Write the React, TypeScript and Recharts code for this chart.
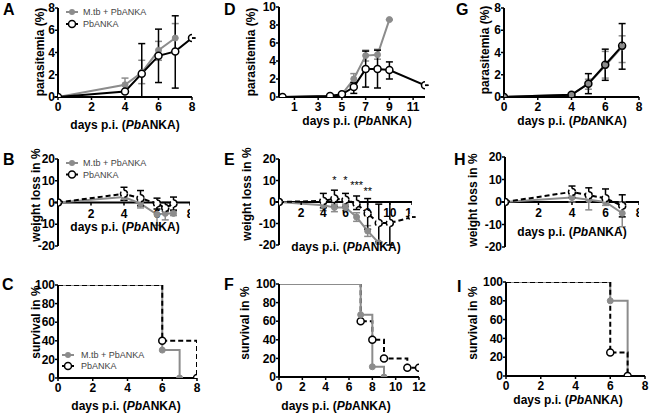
import React from 'react';
import { LineChart, Line, XAxis, YAxis, ErrorBar, ReferenceLine } from 'recharts';

const GREY = '#8c8c8c';
const FONT = '"Liberation Sans", Arial, Helvetica, sans-serif';

// ---- A: parasitemia (%), days 0-8
const daysA_mtb = [0, 4, 5, 6, 7];
const paraA_mtb = [0, 1.1, 2.2, 4.2, 5.3];
const paraA_mtbLo = [0, 0.5, 1.2, 3.3, 4.1];
const paraA_mtbHi = [0, 1.7, 3.3, 5.0, 6.6];
const daysA_pb = [0, 4, 5, 6, 7, 8];
const paraA_pb = [0, 0.5, 2.1, 3.7, 4.1, 5.3];
const paraA_pbLo = [0, 0.5, 0, 1.3, 0.8, 5.3];
const paraA_pbHi = [0, 0.5, 4.8, 6.1, 7.3, 5.3];

// ---- D: parasitemia (%), days 0-12
const daysD_mtb = [0, 4, 5, 6, 7, 8, 9];
const paraD_mtb = [0, 0.1, 0.3, 2.0, 4.6, 4.7, 8.6];
const paraD_mtbLo = [0, 0.1, 0.3, 1.6, 4.0, 4.2, 8.6];
const paraD_mtbHi = [0, 0.1, 0.3, 2.6, 5.2, 5.3, 8.6];
const daysD_pb = [0, 4, 5, 6, 7, 8, 9, 12];
const paraD_pb = [0, 0.1, 0.3, 1.1, 3.1, 3.1, 3.0, 1.3];
const paraD_pbLo = [0, 0.1, 0.3, 0.4, 1.1, 1.0, 2.0, 1.3];
const paraD_pbHi = [0, 0.1, 0.3, 1.6, 5.1, 5.2, 3.9, 1.3];

// ---- G: parasitemia (%), days 0-7
const daysG = [0, 4, 5, 6, 7];
const paraG_mtb = [0, 0.2, 1.2, 2.8, 4.5];
const paraG_mtbLo = [0, 0.2, 0.7, 1.7, 3.1];
const paraG_mtbHi = [0, 0.2, 1.6, 4.1, 5.5];
const paraG_pb = [0, 0.2, 1.2, 2.9, 4.6];
const paraG_pbLo = [0, 0.2, 0.3, 1.5, 2.5];
const paraG_pbHi = [0, 0.2, 2.1, 4.3, 6.6];

// ---- B: weight loss in %
const daysB = [0, 4, 5, 6, 6.5, 7];
const wB_mtb = [0, 2.5, -0.5, -5.5, -5, -5];
const wB_mtbLo = [0, 1, -2.5, -10.5, -8, -6];
const wB_mtbHi = [0, 4, 1.5, -1, -2, -4];
const wB_pb = [0, 4, 2, -0.5, -2.5, -0.5];
const wB_pbLo = [0, 1, -1.5, -3, -4, -3.5];
const wB_pbHi = [0, 7, 5.5, 2, 0, 2.5];

// ---- E: weight loss in %
const daysE_mtb = [0, 4, 5, 6, 7, 8, 9];
const wE_mtb = [0, -1.5, -2.5, -2.5, -7, -13.5, -19];
const wE_mtbLo = [0, -4, -4.5, -4, -9, -16, -19];
const wE_mtbHi = [0, 0, -1, -1, -5, -11, -19];
const daysE_pb = [0, 4, 5, 6, 7, 8, 9, 10, 12];
const wE_pb = [0, 0.5, 1.6, 1, -0.8, -5.4, -9.8, -9.8, -7];
const wE_pbLo = [0, -2.7, -2, -2, -3.5, -12.7, -18.5, -20, -7];
const wE_pbHi = [0, 4, 5.5, 4, 2.8, 1.6, -1, 0, -7];
const starDays = [5, 6, 7, 8];
const starLevels = [8.6, 8.6, 6.2, 3.3];
const starLabels = ['*', '*', '***', '**'];

// ---- H: weight loss in %
const daysH = [0, 4, 5, 6, 7];
const wH_mtb = [0, 2, 1, 0, -5];
const wH_mtbLo = [0, 0, -3.5, -1.5, -11];
const wH_mtbHi = [0, 3, 4, 1.5, 0];
const wH_pb = [0, 4.5, 3, 1.7, -1.7];
const wH_pbLo = [0, 2, 0, 0, -6.6];
const wH_pbHi = [0, 7.1, 6.3, 5.8, 3.2];

// ---- C, F, I: survival in %
const daysC_mtb = [0, 6, 7];
const survC_mtb = [100, 30, 0];
const daysC_pb = [0, 6, 8];
const survC_pb = [100, 40, 0];
const daysF_mtb = [0, 7, 8, 9];
const survF_mtb = [100, 67, 11, 0];
const daysF_pb = [0, 7, 8, 9, 11, 12];
const survF_pb = [100, 60, 40, 20, 10, 10];
const daysI = [0, 6, 7];
const survI_mtb = [100, 80, 0];
const survI_pb = [100, 25, 0];

// ---- axis ticks
const ticks0to8 = [0, 2, 4, 6, 8];
const ticksDx = [1, 3, 5, 7, 9, 11];
const ticksDy = [0, 2, 4, 6, 8, 10];
const ticksWeightX = [2, 4, 6, 8];
const ticksWeightXE = [2, 4, 6, 8, 10, 12];
const ticksWeightY = [-20, -10, 0, 10, 20];
const ticksSurvY = [0, 20, 40, 60, 80, 100];
const ticksFx = [0, 2, 4, 6, 8, 10, 12];

type Row = { day: number; v: number; err?: [number, number]; label?: string };

const toRows = (days: number[], mean: number[], lo?: number[], hi?: number[]): Row[] =>
  days.map((d, i) => ({
    day: d,
    v: mean[i],
    err: lo && hi ? [mean[i] - lo[i], hi[i] - mean[i]] : undefined,
  }));

const tickFont = { fontSize: 12, fontWeight: 700, fill: '#000', fontFamily: FONT };
const axisLine = { stroke: '#000', strokeWidth: 2 };
const tickLine = { stroke: '#000', strokeWidth: 1.5 };

const greyDot = { r: 3, fill: GREY, stroke: GREY, strokeWidth: 1 };
const openDot = { r: 3.5, fill: '#fff', stroke: '#000', strokeWidth: 1.5 };
const ringDot = { r: 3.5, fill: 'none', stroke: '#000', strokeWidth: 1.5 };

// survival curves: no marker at the starting point
const eventDot = (open: boolean) => (p: any) => {
  if (p.index === 0 || p.cx == null) return <g key={`e${p.index}`} />;
  return open ? (
    <circle key={`e${p.index}`} cx={p.cx} cy={p.cy} r={3.5} fill="#fff" stroke="#000" strokeWidth={1.5} />
  ) : (
    <circle key={`e${p.index}`} cx={p.cx} cy={p.cy} r={3} fill={GREY} stroke={GREY} />
  );
};

// tick marks + labels along the y=0 line of the weight panels
const zeroTick = (p: any) => (
  <g key={`z${p.index}`}>
    <line x1={p.cx} x2={p.cx} y1={p.cy} y2={p.cy + 3} stroke="#000" strokeWidth={1.5} />
    <text x={p.cx} y={p.cy + 15} textAnchor="middle" {...tickFont}>
      {p.payload.day}
    </text>
  </g>
);

const starMark = (p: any) => (
  <text key={`s${p.index}`} x={p.cx} y={p.cy} textAnchor="middle" fontSize={11} fontFamily={FONT} fill="#000">
    {p.payload.label}
  </text>
);

const yTick = (p: any) => (
  <text x={p.x} y={p.y} dy="0.35em" textAnchor="end" {...tickFont}>
    {p.payload.value}
  </text>
);

type PanelProps = {
  left: number;
  top: number;
  plotLeft: number;
  plotTop: number;
  plotRight: number;
  plotBottom: number;
  xDomain: [number, number];
  xTicks: number[];
  yDomain: [number, number];
  yTicks: number[];
  zeroAxis?: boolean;
  children: React.ReactNode;
};

function Panel({ left, top, plotLeft, plotTop, plotRight, plotBottom, xDomain, xTicks, yDomain, yTicks, zeroAxis, children }: PanelProps) {
  const xh = zeroAxis ? 0 : 34;
  const mb = zeroAxis ? 12 : 0;
  const mr = 10;
  const width = plotRight - left + mr;
  const height = plotBottom - top + xh + mb;
  return (
    <div style={{ position: 'absolute', left, top, width, height }}>
      <LineChart width={width} height={height} margin={{ top: plotTop - top, right: mr, bottom: mb, left: 0 }} style={{ overflow: 'visible' }}>
        {zeroAxis ? (
          <XAxis type="number" dataKey="day" domain={xDomain} hide allowDataOverflow />
        ) : (
          <XAxis
            type="number"
            dataKey="day"
            domain={xDomain}
            ticks={xTicks}
            interval={0}
            height={xh}
            allowDataOverflow
            tick={tickFont}
            tickSize={3}
            tickMargin={2}
            axisLine={axisLine}
            tickLine={tickLine}
          />
        )}
        <YAxis
          type="number"
          domain={yDomain}
          ticks={yTicks}
          interval={0}
          width={plotLeft - left}
          allowDataOverflow
          tick={yTick}
          tickSize={3}
          tickMargin={0}
          axisLine={axisLine}
          tickLine={tickLine}
        />
        {zeroAxis && <ReferenceLine y={0} stroke="#000" strokeWidth={2} />}
        {zeroAxis && (
          <Line
            data={xTicks.map((t) => ({ day: t, v: 0 }))}
            dataKey="v"
            stroke="none"
            dot={zeroTick}
            activeDot={false}
            isAnimationActive={false}
          />
        )}
        {children}
      </LineChart>
    </div>
  );
}

const meanLine = (rows: Row[], black: boolean, dashed: boolean, dot: any) => (
  <Line
    data={rows}
    dataKey="v"
    type="linear"
    stroke={black ? '#000' : GREY}
    strokeWidth={2}
    strokeDasharray={dashed ? '5 3' : undefined}
    dot={dot}
    activeDot={false}
    isAnimationActive={false}
  >
    <ErrorBar dataKey="err" width={3.5} stroke={black ? '#000' : GREY} strokeWidth={1.5} />
  </Line>
);

const survLine = (days: number[], vals: number[], black: boolean) => (
  <Line
    data={toRows(days, vals)}
    dataKey="v"
    type="stepAfter"
    stroke={black ? '#000' : GREY}
    strokeWidth={2}
    strokeDasharray={black ? '5 3' : undefined}
    dot={eventDot(black)}
    activeDot={false}
    isAnimationActive={false}
  />
);

const yTitles = [
  { x: 40, y: 52, t: 'parasitemia (%)' },
  { x: 251, y: 52, t: 'parasitemia (%)' },
  { x: 485, y: 50, t: 'parasitemia (%)' },
  { x: 36, y: 195, t: 'weight loss in %' },
  { x: 247, y: 194, t: 'weight loss in %' },
  { x: 473, y: 200, t: 'weight loss in %' },
  { x: 36, y: 322, t: 'survival in %' },
  { x: 245, y: 323, t: 'survival in %' },
  { x: 473, y: 323, t: 'survival in %' },
];

const xTitles = [
  { x: 125, y: 129 },
  { x: 357, y: 125 },
  { x: 572, y: 125 },
  { x: 125, y: 231 },
  { x: 346, y: 251 },
  { x: 572, y: 236 },
  { x: 126, y: 410 },
  { x: 336, y: 410 },
  { x: 568, y: 404 },
];

const letters = [
  { x: 3, y: 15, t: 'A' },
  { x: 3, y: 165, t: 'B' },
  { x: 2, y: 290, t: 'C' },
  { x: 224, y: 15, t: 'D' },
  { x: 224, y: 165, t: 'E' },
  { x: 224, y: 290, t: 'F' },
  { x: 456, y: 15, t: 'G' },
  { x: 454, y: 165, t: 'H' },
  { x: 457, y: 292, t: 'I' },
];

const legendSpots = [
  { x: 72, y1: 12, y2: 24, tx: 83 },
  { x: 72, y1: 163, y2: 174.5, tx: 83 },
  { x: 68, y1: 355, y2: 366, tx: 81 },
];

function Overlay() {
  return (
    <svg width={650} height={414} style={{ position: 'absolute', left: 0, top: 0, pointerEvents: 'none' }} fontFamily={FONT}>
      {letters.map((l) => (
        <text key={l.t} x={l.x} y={l.y} fontSize={16} fontWeight={700}>
          {l.t}
        </text>
      ))}
      {yTitles.map((t, i) => (
        <text key={`y${i}`} x={t.x} y={t.y} dy="0.35em" transform={`rotate(-90 ${t.x} ${t.y})`} textAnchor="middle" fontSize={12} fontWeight={700}>
          {t.t}
        </text>
      ))}
      {xTitles.map((t, i) => (
        <text key={`x${i}`} x={t.x} y={t.y} textAnchor="middle" fontSize={12} fontWeight={700}>
          days p.i. (<tspan fontStyle="italic">Pb</tspan>ANKA)
        </text>
      ))}
      {legendSpots.map((s, i) => (
        <g key={`l${i}`}>
          <line x1={s.x - 6} x2={s.x + 6} y1={s.y1} y2={s.y1} stroke={GREY} strokeWidth={2} />
          <circle cx={s.x} cy={s.y1} r={3} fill={GREY} />
          <text x={s.tx} y={s.y1 + 3.2} fontSize={9} fill="#444">
            M.tb + PbANKA
          </text>
          <line x1={s.x - 6} x2={s.x + 6} y1={s.y2} y2={s.y2} stroke="#000" strokeWidth={2} />
          <circle cx={s.x} cy={s.y2} r={3.5} fill="#fff" stroke="#000" strokeWidth={1.5} />
          <text x={s.tx} y={s.y2 + 3.2} fontSize={9} fill="#444">
            PbANKA
          </text>
        </g>
      ))}
    </svg>
  );
}

export default function App() {
  return (
    <div style={{ position: 'absolute', left: 0, top: 0, width: 650, height: 414, background: '#fff', fontFamily: FONT }}>
      {/* row 1: parasitemia */}
      <Panel left={0} top={0} plotLeft={58} plotTop={8} plotRight={192} plotBottom={97} xDomain={[0, 8]} xTicks={ticks0to8} yDomain={[0, 8]} yTicks={ticks0to8}>
        {meanLine(toRows(daysA_mtb, paraA_mtb, paraA_mtbLo, paraA_mtbHi), false, false, greyDot)}
        {meanLine(toRows(daysA_pb, paraA_pb, paraA_pbLo, paraA_pbHi), true, false, openDot)}
      </Panel>
      <Panel left={210} top={0} plotLeft={279} plotTop={7} plotRight={425} plotBottom={97} xDomain={[-0.3, 12]} xTicks={ticksDx} yDomain={[0, 10]} yTicks={ticksDy}>
        {meanLine(toRows(daysD_mtb, paraD_mtb, paraD_mtbLo, paraD_mtbHi), false, false, greyDot)}
        {meanLine(toRows(daysD_pb, paraD_pb, paraD_pbLo, paraD_pbHi), true, false, openDot)}
      </Panel>
      <Panel left={430} top={0} plotLeft={504} plotTop={8} plotRight={639} plotBottom={97} xDomain={[0, 8]} xTicks={ticks0to8} yDomain={[0, 8]} yTicks={ticks0to8}>
        {meanLine(toRows(daysG, paraG_mtb, paraG_mtbLo, paraG_mtbHi), false, false, greyDot)}
        {meanLine(toRows(daysG, paraG_pb, paraG_pbLo, paraG_pbHi), true, false, ringDot)}
      </Panel>

      {/* row 2: weight */}
      <Panel left={0} top={140} plotLeft={58} plotTop={159} plotRight={190} plotBottom={246} xDomain={[0, 8]} xTicks={ticksWeightX} yDomain={[-20, 20]} yTicks={ticksWeightY} zeroAxis>
        {meanLine(toRows(daysB, wB_mtb, wB_mtbLo, wB_mtbHi), false, false, greyDot)}
        {meanLine(toRows(daysB, wB_pb, wB_pbLo, wB_pbHi), true, true, openDot)}
      </Panel>
      <Panel left={210} top={140} plotLeft={279} plotTop={159} plotRight={412} plotBottom={245} xDomain={[0, 12]} xTicks={ticksWeightXE} yDomain={[-20, 20]} yTicks={ticksWeightY} zeroAxis>
        {meanLine(toRows(daysE_mtb, wE_mtb, wE_mtbLo, wE_mtbHi), false, false, greyDot)}
        {meanLine(toRows(daysE_pb, wE_pb, wE_pbLo, wE_pbHi), true, true, openDot)}
        <Line
          data={starDays.map((d, i) => ({ day: d, v: starLevels[i], label: starLabels[i] }))}
          dataKey="v"
          stroke="none"
          dot={starMark}
          activeDot={false}
          isAnimationActive={false}
        />
      </Panel>
      <Panel left={430} top={140} plotLeft={505} plotTop={157} plotRight={639} plotBottom={247} xDomain={[0, 8]} xTicks={ticksWeightX} yDomain={[-20, 20]} yTicks={ticksWeightY} zeroAxis>
        {meanLine(toRows(daysH, wH_mtb, wH_mtbLo, wH_mtbHi), false, false, greyDot)}
        {meanLine(toRows(daysH, wH_pb, wH_pbLo, wH_pbHi), true, true, openDot)}
      </Panel>

      {/* row 3: survival */}
      <Panel left={0} top={275} plotLeft={58} plotTop={285} plotRight={197} plotBottom={378} xDomain={[0, 8]} xTicks={ticks0to8} yDomain={[0, 100]} yTicks={ticksSurvY}>
        {survLine(daysC_mtb, survC_mtb, false)}
        {survLine(daysC_pb, survC_pb, true)}
      </Panel>
      <Panel left={210} top={275} plotLeft={279} plotTop={284} plotRight={419} plotBottom={377} xDomain={[0, 12]} xTicks={ticksFx} yDomain={[0, 100]} yTicks={ticksSurvY}>
        {survLine(daysF_pb, survF_pb, true)}
        {survLine(daysF_mtb, survF_mtb, false)}
      </Panel>
      <Panel left={430} top={275} plotLeft={506} plotTop={282} plotRight={645} plotBottom={376} xDomain={[0, 8]} xTicks={ticks0to8} yDomain={[0, 100]} yTicks={ticksSurvY}>
        {survLine(daysI, survI_mtb, false)}
        {survLine(daysI, survI_pb, true)}
      </Panel>

      <Overlay />
    </div>
  );
}
